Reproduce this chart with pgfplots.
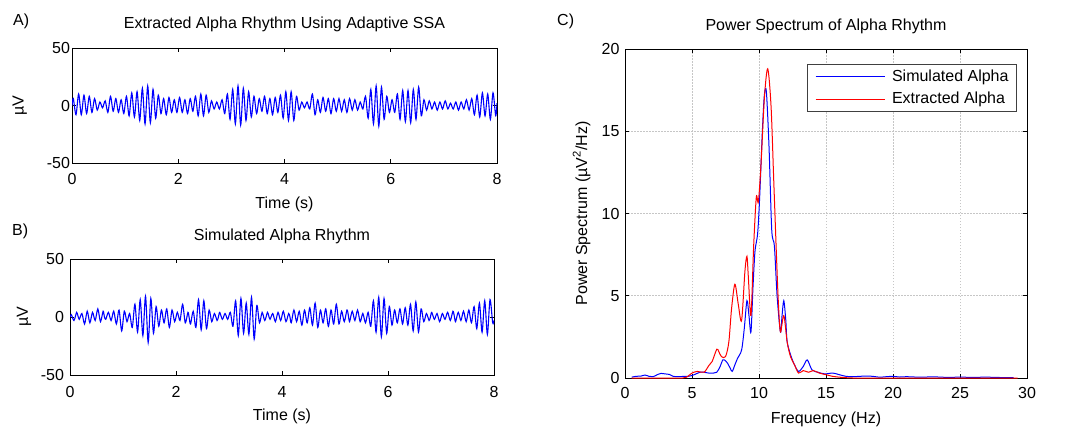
\documentclass[border=0pt]{standalone}
\usepackage{fontspec}
\setmainfont{Liberation Sans}
\usepackage{pgfplots}
\pgfplotsset{compat=1.18}
\newcommand{\fs}{\fontsize{16}{19}\selectfont}
\pgfplotsset{
  myaxis/.style={
    scale only axis,
    anchor=south west,
    tick align=inside,
    major tick length=4pt,
    axis line style={line width=0.8pt},
    every tick/.style={black, line width=0.8pt},
    /pgf/number format/assume math mode=true,
    tick label style={font=\fs},
    label style={font=\fs},
    title style={font=\fs},
  },
}
\begin{document}
\begin{tikzpicture}
\path[use as bounding box] (0pt,0pt) rectangle (1081pt,429pt);
\node[anchor=base west,font=\fs,inner sep=0pt] at (13pt,403.5pt) {A)};
\node[anchor=base west,font=\fs,inner sep=0pt] at (12pt,194pt) {B)};
\node[anchor=base west,font=\fs,inner sep=0pt] at (557pt,403.3pt) {C)};
% ---------- A ----------
\begin{axis}[myaxis, at={(72pt,266pt)}, width=425pt, height=115pt,
  xmin=0, xmax=8, ymin=-50, ymax=50,
  xtick={0,2,4,6,8}, ytick={-50,0,50},
  xticklabel style={yshift=-6.5pt},
  yticklabel style={xshift=1.5pt},
  title={Extracted Alpha Rhythm Using Adaptive SSA},
  title style={at={(axis description cs:0.5,1)}, anchor=base, yshift=13pt},
  xlabel={Time (s)},
  xlabel style={at={(axis description cs:0.5,0)}, anchor=base, yshift=-45.5pt},
  ylabel={µV},
  ylabel style={at={(axis description cs:-0.1141,0.5)}, anchor=base},
]
\addplot[blue, line width=1.1pt, smooth] coordinates {
(0,0)(0.025,6)(0.075,-8)(0.125,10)(0.175,-8)(0.225,9)(0.275,-7)(0.325,8)(0.375,-6)(0.425,6)(0.475,-4)(0.525,3)(0.575,-2)(0.625,4)(0.675,-6)(0.725,8)(0.775,-5)(0.825,6)(0.875,-6)(0.925,5)(0.975,-7)(1.025,8)(1.075,-9)(1.125,11)(1.175,-10)(1.225,12)(1.275,-13)(1.325,15)(1.375,-16)(1.425,17)(1.475,-15)(1.525,14)(1.575,-11)(1.625,9)(1.675,-7)(1.725,6)(1.775,-8)(1.825,7)(1.875,-6)(1.925,5)(1.975,-6)(2.025,7)(2.075,-6)(2.125,5)(2.175,-7)(2.225,6)(2.275,-5)(2.325,8)(2.375,-9)(2.425,10)(2.475,-9)(2.525,9)(2.575,-6)(2.625,4)(2.675,-3)(2.725,3)(2.775,-3)(2.825,5)(2.875,-7)(2.925,10)(2.975,-12)(3.025,14)(3.075,-16)(3.125,17)(3.175,-17)(3.225,15)(3.275,-13)(3.325,12)(3.375,-10)(3.425,8)(3.475,-7)(3.525,6)(3.575,-5)(3.625,8)(3.675,-7)(3.725,6)(3.775,-8)(3.825,7)(3.875,-6)(3.925,9)(3.975,-11)(4.025,12)(4.075,-13)(4.125,12)(4.175,-13)(4.225,8)(4.275,-4)(4.325,3)(4.375,-2)(4.425,3)(4.475,-3)(4.525,10)(4.575,-8)(4.625,5)(4.675,-6)(4.725,7)(4.775,-5)(4.825,6)(4.875,-7)(4.925,6)(4.975,-5)(5.025,6)(5.075,-5)(5.125,5)(5.175,-6)(5.225,6)(5.275,-4)(5.325,5)(5.375,-4)(5.425,3)(5.475,-3)(5.525,8)(5.575,-11)(5.625,14)(5.675,-16)(5.725,17)(5.775,-18)(5.825,16)(5.875,-12)(5.925,8)(5.975,-6)(6.025,5)(6.075,-6)(6.125,10)(6.175,-12)(6.225,13)(6.275,-14)(6.325,13)(6.375,-15)(6.425,14)(6.475,-12)(6.525,16)(6.575,-9)(6.625,5)(6.675,-4)(6.725,4)(6.775,-3)(6.825,3)(6.875,-4)(6.925,3)(6.975,-3)(7.025,4)(7.075,-3)(7.125,2)(7.175,-3)(7.225,3)(7.275,-4)(7.325,3)(7.375,-3)(7.425,5)(7.475,-4)(7.525,6)(7.575,-8)(7.625,9)(7.675,-10)(7.725,11)(7.775,-9)(7.825,10)(7.875,-12)(7.925,11)(7.975,-9)(8,2)
};
\end{axis}
% ---------- B ----------
\begin{axis}[myaxis, at={(70pt,54pt)}, width=424pt, height=116pt,
  xmin=0, xmax=8, ymin=-50, ymax=50,
  xtick={0,2,4,6,8}, ytick={-50,0,50},
  xticklabel style={yshift=-8pt},
  yticklabel style={xshift=-2.5pt},
  title={Simulated Alpha Rhythm},
  title style={at={(axis description cs:0.5,1)}, anchor=base, yshift=13pt},
  xlabel={Time (s)},
  xlabel style={at={(axis description cs:0.5,0)}, anchor=base, yshift=-45.5pt},
  ylabel={µV},
  ylabel style={at={(axis description cs:-0.0991,0.5)}, anchor=base},
]
\addplot[blue, line width=1.1pt, smooth] coordinates {
(0,0)(0.025,2)(0.075,-3)(0.125,4)(0.15,1)(0.175,-2)(0.225,3)(0.275,-6)(0.325,5)(0.375,-5)(0.425,4)(0.475,-3)(0.525,7)(0.575,-4)(0.625,5)(0.65,0)(0.675,-2)(0.725,4)(0.775,-3)(0.825,5)(0.875,-6)(0.925,6)(0.975,-12)(1.025,5)(1.075,-4)(1.125,3)(1.175,-9)(1.225,11)(1.275,-13)(1.325,15)(1.375,-16)(1.425,18)(1.475,-22)(1.525,16)(1.575,-14)(1.625,9)(1.675,-8)(1.725,6)(1.775,-5)(1.825,7)(1.875,-9)(1.925,6)(1.975,-4)(2.025,4)(2.075,-3)(2.125,11)(2.175,-5)(2.225,4)(2.25,-1)(2.275,-6)(2.325,5)(2.375,-9)(2.425,15)(2.475,-11)(2.525,14)(2.575,-10)(2.625,6)(2.675,-4)(2.725,3)(2.775,-3)(2.8,0)(2.825,4)(2.875,-2)(2.925,3)(2.975,-2)(3.025,4)(3.075,-8)(3.125,14)(3.175,-16)(3.225,16)(3.275,-14)(3.325,12)(3.375,-15)(3.425,17)(3.475,-19)(3.525,10)(3.575,-5)(3.625,4)(3.675,-3)(3.725,4)(3.75,1)(3.775,-2)(3.825,3)(3.875,-4)(3.925,4)(3.975,-3)(4.025,5)(4.075,-4)(4.125,3)(4.15,0)(4.175,-5)(4.225,6)(4.275,-4)(4.325,5)(4.375,-7)(4.425,6)(4.475,-5)(4.525,8)(4.575,-7)(4.625,12)(4.675,-9)(4.725,6)(4.775,-5)(4.825,7)(4.875,-8)(4.925,6)(4.975,-6)(5.025,11)(5.075,-6)(5.125,5)(5.175,-4)(5.225,6)(5.25,2)(5.275,-4)(5.325,5)(5.375,-3)(5.425,6)(5.475,-4)(5.525,3)(5.575,-5)(5.625,4)(5.675,-8)(5.725,14)(5.775,-13)(5.825,17)(5.875,-17)(5.925,16)(5.975,-14)(6.025,9)(6.075,-7)(6.125,6)(6.175,-5)(6.225,7)(6.275,-6)(6.325,8)(6.375,-7)(6.425,11)(6.475,-12)(6.525,13)(6.575,-13)(6.625,7)(6.675,-4)(6.725,3)(6.775,-3)(6.8,0)(6.825,4)(6.875,-2)(6.925,3)(6.975,-4)(7.025,3)(7.075,-2)(7.125,4)(7.175,-3)(7.225,5)(7.25,1)(7.275,-4)(7.325,4)(7.375,-3)(7.425,5)(7.475,-4)(7.525,6)(7.575,-5)(7.625,9)(7.675,-10)(7.725,12)(7.775,-13)(7.825,14)(7.875,-15)(7.925,15)(7.975,-5)(8,-3)
};
\end{axis}
% ---------- C ----------
\begin{axis}[myaxis, at={(625pt,51pt)}, width=402pt, height=329pt,
  xmin=0, xmax=30, ymin=0, ymax=20,
  xtick={0,5,...,30}, ytick={0,5,...,20},
  xticklabel style={yshift=-6pt},
  yticklabel style={xshift=-2pt},
  grid=major,
  major grid style={gray!45, line width=0.6pt, dash pattern=on 1.5pt off 1.5pt},
  title={Power Spectrum of Alpha Rhythm},
  title style={at={(axis description cs:0.5,1)}, anchor=base, yshift=13pt},
  xlabel={Frequency (Hz)},
  xlabel style={at={(axis description cs:0.5,0)}, anchor=base, yshift=-45.5pt},
  ylabel={Power Spectrum (µV\textsuperscript{2}/Hz)},
  ylabel style={at={(axis description cs:-0.0945,0.5)}, anchor=base},
  legend cell align=left,
  legend image code/.code={\draw[#1] (5pt,0pt) -- (74pt,0pt);},
  legend style={at={(axis description cs:1,1)}, anchor=north east,
    xshift=-10pt, yshift=-15pt, draw=black!75, line width=0.9pt, fill=white,
    inner xsep=8pt, inner ysep=4pt, row sep=5.8pt,
    nodes={inner sep=0pt, text height=13pt, text depth=3.5pt, font=\fs},
    /tikz/every odd column/.append style={column sep=7pt}},
]
\addplot[draw=blue, line width=1pt, smooth] coordinates {
(0.5,0.05)(0.8,0.1)(1.2,0.12)(1.5,0.18)(1.8,0.1)(2.1,0.08)(2.4,0.2)(2.7,0.28)(3.0,0.25)(3.3,0.22)(3.6,0.1)(4.0,0.08)(4.4,0.1)(4.7,0.1)(5.0,0.15)(5.3,0.25)(5.6,0.35)(5.9,0.35)(6.25,0.3)(6.6,0.3)(6.85,0.35)(7.1,0.7)(7.3,1.1)(7.5,1.05)(7.65,0.9)(7.85,0.6)(8.0,0.4)(8.2,0.8)(8.4,1.2)(8.7,1.7)(8.9,3.0)(9.1,4.7)(9.25,3.8)(9.4,2.8)(9.55,5.5)(9.7,7.7)(9.9,8.8)(10.05,11)(10.25,15)(10.4,17.2)(10.55,17.4)(10.75,14)(10.95,9)(11.15,8)(11.35,5)(11.6,2.8)(11.72,3.8)(11.85,4.7)(12.0,3.5)(12.1,2.2)(12.4,1.3)(12.65,0.8)(12.95,0.4)(13.3,0.7)(13.6,1.1)(13.95,0.5)(14.4,0.35)(14.9,0.25)(15.5,0.3)(16.0,0.2)(16.5,0.1)(17.0,0.08)(17.5,0.1)(18.0,0.12)(18.5,0.1)(19.0,0.05)(19.5,0.08)(20.0,0.1)(20.5,0.06)(21.0,0.08)(22.0,0.05)(23.0,0.07)(24.0,0.04)(25.0,0.05)(26.0,0.04)(27.0,0.05)(28.0,0.03)(29.0,0.03)
};
\addlegendentry{Simulated Alpha}
\addplot[draw=red, line width=1pt, smooth] coordinates {
(0.5,0)(1.5,0)(2.5,0)(3.5,0)(4.3,0)(4.6,0.05)(5.0,0.3)(5.4,0.4)(5.9,0.35)(6.25,0.75)(6.5,1.0)(6.85,1.75)(7.0,1.6)(7.2,1.3)(7.5,1.3)(7.75,2.2)(7.95,4.2)(8.2,5.7)(8.45,4.5)(8.7,3.5)(8.95,6.5)(9.1,7.4)(9.2,6.2)(9.4,3.8)(9.6,8.0)(9.8,11.0)(9.95,10.7)(10.15,13)(10.4,17)(10.65,18.8)(10.9,16.5)(11.1,12)(11.3,7.5)(11.45,4.5)(11.6,2.8)(11.85,3.8)(12.1,2.2)(12.35,1.3)(12.65,0.8)(12.95,0.3)(13.3,0.45)(13.7,0.35)(14.05,0.45)(14.5,0.3)(15.0,0.2)(15.5,0.1)(16.0,0.05)(16.5,0.02)(17,0)(20,0)(25,0)(29.3,0)
};
\addlegendentry{Extracted Alpha}
\end{axis}
\end{tikzpicture}
\end{document}
